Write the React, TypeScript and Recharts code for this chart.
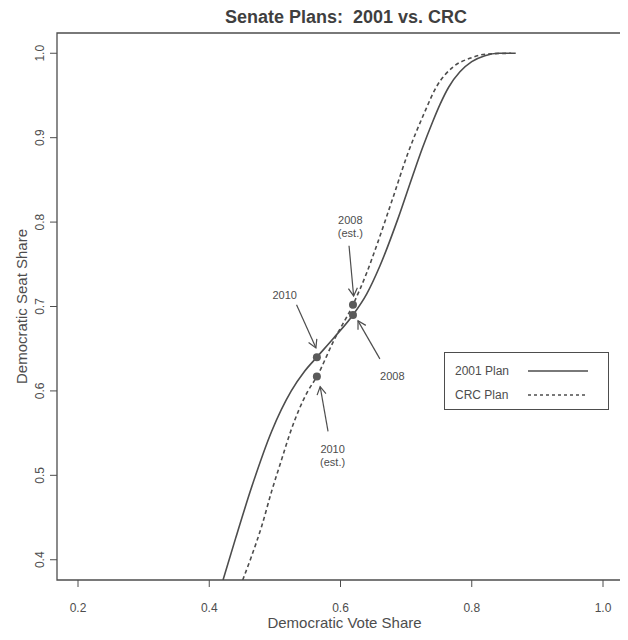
import React from 'react';
import {
  ComposedChart, Line, Scatter, XAxis, YAxis, ReferenceArea, ReferenceLine, ReferenceDot, Legend,
} from 'recharts';

const INK = '#4d4d4d';
const FONT = '"Liberation Sans", Arial, Helvetica, sans-serif';

// seats-votes curve, 2001 plan (solid)
const plan2001Votes = [0.421, 0.440, 0.465, 0.495, 0.525, 0.545, 0.564, 0.590, 0.619, 0.640, 0.660, 0.688, 0.710, 0.725, 0.740, 0.752, 0.765, 0.782, 0.800, 0.820, 0.840, 0.867];
const plan2001Seats = [0.376, 0.425, 0.487, 0.552, 0.600, 0.623, 0.640, 0.663, 0.690, 0.715, 0.748, 0.805, 0.855, 0.888, 0.918, 0.940, 0.960, 0.978, 0.990, 0.997, 1.000, 1.000];

// seats-votes curve, CRC plan (dashed)
const crcVotes = [0.451, 0.463, 0.480, 0.495, 0.510, 0.524, 0.549, 0.564, 0.590, 0.619, 0.640, 0.655, 0.680, 0.702, 0.727, 0.746, 0.772, 0.797, 0.822, 0.860];
const crcSeats = [0.376, 0.401, 0.440, 0.481, 0.518, 0.552, 0.598, 0.617, 0.660, 0.702, 0.740, 0.772, 0.829, 0.880, 0.928, 0.960, 0.984, 0.994, 0.999, 1.000];

// election results (dots)
const pointVotes = [0.564, 0.564, 0.619, 0.619];
const pointSeats = [0.640, 0.617, 0.702, 0.690];

// annotations
const noteTexts = ['2010', '2008\n(est.)', '2008', '2010\n(est.)'];
const noteVotes = [0.515, 0.615, 0.679, 0.588];
const noteSeats = [0.713, 0.795, 0.618, 0.523];
const arrowFrom = [[0.533, 0.702], [0.613, 0.772], [0.660, 0.638], [0.581, 0.552]];
const arrowTo = [[0.5625, 0.651], [0.620, 0.7125], [0.6267, 0.683], [0.569, 0.605]];

const xTicks = [0.2, 0.4, 0.6, 0.8, 1.0];
const yTicks = [0.4, 0.5, 0.6, 0.7, 0.8, 0.9, 1.0];
const legendNames = ['2001 Plan', 'CRC Plan'];

const plan2001 = plan2001Votes.map((x, i) => ({ x, y: plan2001Seats[i] }));
const crc = crcVotes.map((x, i) => ({ x, y: crcSeats[i] }));
const points = pointVotes.map((x, i) => ({ x, y: pointSeats[i] }));

const ArrowShape = (props: any) => {
  const { x1, y1, x2, y2 } = props;
  const a = Math.atan2(y2 - y1, x2 - x1);
  const len = 9;
  const s = Math.PI / 6;
  const p1 = `${x2 - len * Math.cos(a - s)},${y2 - len * Math.sin(a - s)}`;
  const p2 = `${x2 - len * Math.cos(a + s)},${y2 - len * Math.sin(a + s)}`;
  return (
    <g>
      <line x1={x1} y1={y1} x2={x2} y2={y2} stroke={INK} strokeWidth={1.2} />
      <polyline points={`${p1} ${x2},${y2} ${p2}`} fill="none" stroke={INK} strokeWidth={1.2} />
    </g>
  );
};

const noteShape = (text: string) => (props: any) => {
  const lines = text.split('\n');
  return (
    <text textAnchor="middle" fontFamily={FONT} fontSize={11} fill={INK}>
      {lines.map((t, i) => (
        <tspan key={i} x={props.cx} y={props.cy + (i - (lines.length - 1) / 2) * 13} dy="0.355em">{t}</tspan>
      ))}
    </text>
  );
};

const XTick = (props: any) => (
  <text x={props.x} y={props.y} dy="0.355em" textAnchor="middle" fontFamily={FONT} fontSize={12} fill={INK}>
    {Number(props.payload.value).toFixed(1)}
  </text>
);

const YTick = (props: any) => (
  <text x={props.x} y={props.y} dy="0.355em" textAnchor="middle" fontFamily={FONT} fontSize={12} fill={INK}
    transform={`rotate(-90, ${props.x}, ${props.y})`}>
    {Number(props.payload.value).toFixed(1)}
  </text>
);

const renderLegend = () => (
  <div style={{
    width: 165, height: 58, boxSizing: 'border-box', border: `1.3px solid ${INK}`, background: '#fff',
    fontFamily: FONT, fontSize: 12, color: INK, position: 'relative',
  }}>
    {legendNames.map((name, i) => (
      <div key={name} style={{ position: 'absolute', left: 10, top: 9 + i * 24, height: 18, display: 'flex', alignItems: 'center' }}>
        <span style={{ width: 73 }}>{name}</span>
        <svg width={60} height={4}>
          <line x1={0} y1={2} x2={60} y2={2} stroke={INK} strokeWidth={1.5} strokeDasharray={i === 1 ? '3 3' : undefined} />
        </svg>
      </div>
    ))}
  </div>
);

export default function App() {
  return (
    <div style={{ position: 'relative', width: 620, height: 632 }}>
      <div style={{
        position: 'absolute', left: 0, width: 676, top: 0, textAlign: 'center', whiteSpace: 'pre',
        fontFamily: FONT, fontWeight: 'bold', fontSize: 18, lineHeight: '18px', color: '#3f3f3f',
      }}>
        {'Senate Plans:  2001 vs. CRC'}
      </div>
      <ComposedChart width={620} height={632} margin={{ top: 25, right: 4, left: 9, bottom: 20 }}>
        <XAxis dataKey="x" type="number" domain={[0.168, 1.032]} ticks={xTicks} allowDataOverflow
          axisLine={false} tickLine={{ stroke: INK }} tickSize={7} tickMargin={21} height={40} tick={XTick}
          label={{
            content: (p: any) => (
              <text x={p.viewBox.x + p.viewBox.width / 2 + 4} y={p.viewBox.y + 43} dy="0.355em" textAnchor="middle"
                fontFamily={FONT} fontSize={15} fill={INK}>Democratic Vote Share</text>
            ),
          }} />
        <YAxis dataKey="y" type="number" domain={[0.376, 1.024]} ticks={yTicks} allowDataOverflow
          axisLine={false} tickLine={{ stroke: INK }} tickSize={7} tickMargin={10} width={40} tick={YTick}
          label={{
            content: (p: any) => {
              const cx = p.viewBox.x + 5;
              const cy = p.viewBox.y + p.viewBox.height / 2;
              return (
                <text x={cx} y={cy} dy="0.355em" textAnchor="middle" fontFamily={FONT} fontSize={15} fill={INK}
                  transform={`rotate(-90, ${cx}, ${cy})`}>Democratic Seat Share</text>
              );
            },
          }} />
        <ReferenceArea x1={0.168} x2={1.032} y1={0.376} y2={1.024} fill="none" stroke={INK} strokeWidth={1.3} ifOverflow="visible" />
        <Line data={plan2001} dataKey="y" name="2001 Plan" type="monotone" stroke={INK} strokeWidth={1.6}
          dot={false} isAnimationActive={false} />
        <Line data={crc} dataKey="y" name="CRC Plan" type="monotone" stroke={INK} strokeWidth={1.6}
          strokeDasharray="4 3" dot={false} isAnimationActive={false} />
        <Scatter data={points} dataKey="y" fill={INK} legendType="none" isAnimationActive={false}
          shape={(p: any) => <circle cx={p.cx} cy={p.cy} r={4} fill="#5a5a5a" />} />
        {arrowFrom.map((f, i) => (
          <ReferenceLine key={`a${i}`} segment={[{ x: f[0], y: f[1] }, { x: arrowTo[i][0], y: arrowTo[i][1] }]}
            shape={ArrowShape} ifOverflow="visible" />
        ))}
        {noteTexts.map((t, i) => (
          <ReferenceDot key={`n${i}`} x={noteVotes[i]} y={noteSeats[i]} r={0} shape={noteShape(t)} ifOverflow="visible" />
        ))}
        <Legend content={renderLegend} layout="horizontal" verticalAlign="middle" align="center"
          wrapperStyle={{ position: 'absolute', left: 436, top: 344, width: 165, height: 58 }} />
      </ComposedChart>
    </div>
  );
}
